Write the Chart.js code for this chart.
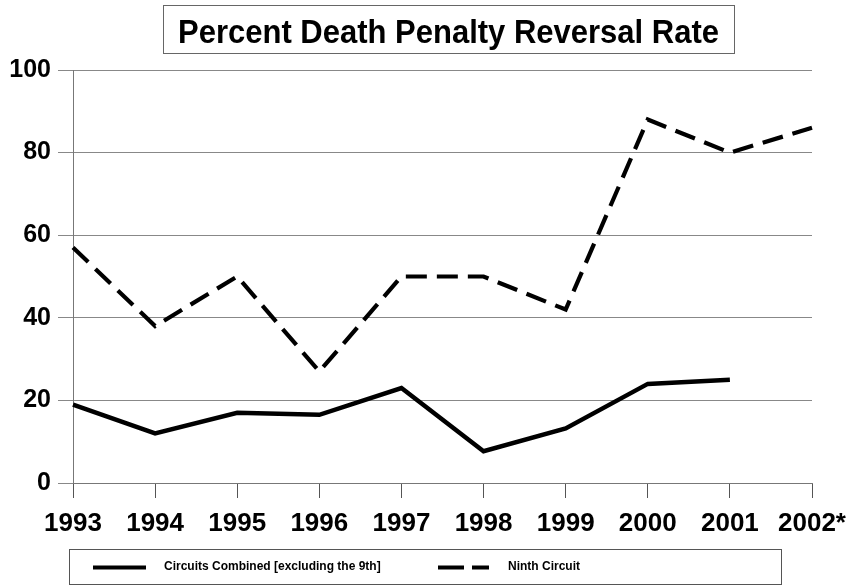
<!DOCTYPE html>
<html>
<head>
<meta charset="utf-8">
<script src="https://cdn.jsdelivr.net/npm/chart.js@4/dist/chart.umd.min.js"></script>
<style>
  html, body { margin: 0; padding: 0; background: #fff; }
  #wrap { width: 852px; height: 586px; }
</style>
</head>
<body>
<div id="wrap"><canvas id="c" width="852" height="586"></canvas></div>
<script>
const chartTitle = "Percent Death Penalty Reversal Rate";
const years = ["1993", "1994", "1995", "1996", "1997", "1998", "1999", "2000", "2001", "2002*"];
const circuitsCombined = [19, 12, 17, 16.5, 23, 7.7, 13.2, 24, 25, null];
const ninthCircuit = [57, 38, 50, 27, 50, 50, 42, 88, 80, 86];
const seriesLabels = ["Circuits Combined [excluding the 9th]", "Ninth Circuit"];
const yTicks = [0, 20, 40, 60, 80, 100];

const FONT = "'Liberation Sans', Arial, Helvetica, sans-serif";

const boxesPlugin = {
  id: 'boxes',
  afterDraw(chart) {
    const ctx = chart.ctx;
    ctx.save();
    // Title box
    ctx.strokeStyle = '#666';
    ctx.lineWidth = 1;
    ctx.strokeRect(163.5, 5.5, 571, 48);
    ctx.fillStyle = '#000';
    ctx.font = "bold 31px " + FONT;
    ctx.textAlign = 'center';
    ctx.textBaseline = 'alphabetic';
    ctx.save();
    ctx.translate(448.5, 43);
    ctx.scale(1, 1.1);
    ctx.fillText(chartTitle, 0, 0);
    ctx.restore();

    // Legend box
    ctx.strokeStyle = '#555';
    ctx.strokeRect(69.5, 549.5, 712, 35);
    const ds = chart.data.datasets;
    const items = [
      { x0: 93, x1: 146, tx: 164 },
      { x0: 438, x1: 489, tx: 508 }
    ];
    items.forEach((it, i) => {
      const d = ds[i];
      ctx.beginPath();
      ctx.setLineDash(i === 1 ? [26, 8] : []);
      ctx.lineWidth = 4;
      ctx.lineCap = 'butt';
      ctx.strokeStyle = d.borderColor;
      ctx.moveTo(it.x0, 567.5);
      ctx.lineTo(it.x1, 567.5);
      ctx.stroke();
      ctx.setLineDash([]);
      ctx.fillStyle = '#000';
      ctx.font = "bold 12px " + FONT;
      ctx.textAlign = 'left';
      ctx.textBaseline = 'middle';
      ctx.fillText(d.label, it.tx, 567);
    });
    ctx.restore();
  }
};

new Chart(document.getElementById('c'), {
  type: 'line',
  data: {
    labels: years,
    datasets: [
      {
        label: seriesLabels[0],
        data: circuitsCombined,
        borderColor: '#000',
        borderWidth: 4.5,
        pointRadius: 0,
        tension: 0,
        fill: false,
        borderJoinStyle: 'miter',
        spanGaps: false
      },
      {
        label: seriesLabels[1],
        data: ninthCircuit,
        borderColor: '#000',
        borderWidth: 4.2,
        borderDash: [21, 10],
        pointRadius: 0,
        tension: 0,
        fill: false,
        borderJoinStyle: 'miter'
      }
    ]
  },
  options: {
    responsive: false,
    animation: false,
    devicePixelRatio: 1,
    layout: { autoPadding: false, padding: { top: 70, right: 40, left: 0, bottom: 0 } },
    plugins: {
      legend: { display: false },
      title: { display: false },
      tooltip: { enabled: false }
    },
    scales: {
      x: {
        offset: false,
        afterFit(scale) {
          scale.height = 103;
          scale.paddingLeft = 0;
          scale.paddingRight = 0;
        },
        grid: {
          display: true,
          drawOnChartArea: false,
          drawTicks: true,
          tickLength: 15,
          color: '#555',
          lineWidth: 1
        },
        border: { display: true, color: '#777', width: 1 },
        ticks: {
          color: '#000',
          font: { family: FONT, size: 26, weight: 'bold' },
          padding: 10,
          maxRotation: 0,
          autoSkip: false
        }
      },
      y: {
        min: 0,
        max: 100,
        afterFit(scale) {
          scale.width = 73;
          scale.paddingTop = 0;
          scale.paddingBottom = 0;
        },
        afterBuildTicks(scale) { scale.ticks = yTicks.map(v => ({ value: v })); },
        grid: {
          color: '#888',
          lineWidth: 1,
          drawTicks: true,
          tickLength: 15,
          tickColor: '#888'
        },
        border: { display: true, color: '#777', width: 1 },
        ticks: {
          color: '#000',
          font: { family: FONT, size: 25, weight: 'bold' },
          padding: 7
        }
      }
    }
  },
  plugins: [boxesPlugin]
});
</script>
</body>
</html>
